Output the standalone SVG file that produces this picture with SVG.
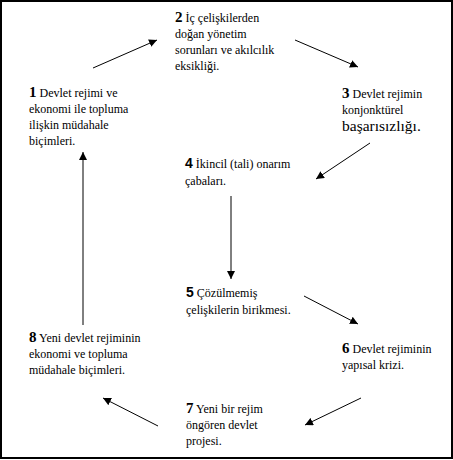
<svg xmlns="http://www.w3.org/2000/svg" width="453" height="460" viewBox="0 0 453 460">
<style>
text{font-size:12px;fill:#000}
.n{font-weight:bold;font-size:15px}
.ns{font-family:'Liberation Sans', Arial, sans-serif;font-weight:bold;font-size:14px}
.big{font-size:15.5px}
.c line{stroke:#000;stroke-width:1;marker-end:url(#ah)}
</style>
<defs>
<marker id="ah" viewBox="0 0 10 10" refX="10" refY="5" markerWidth="8" markerHeight="8" markerUnits="userSpaceOnUse" orient="auto">
<path d="M0,0 L10,5 L0,10 z" fill="#000"/>
</marker>
</defs>
<rect x="1" y="1" width="451" height="457" fill="#fff" stroke="#000" stroke-width="2"/>
<g class="c">
<line x1="93" y1="68" x2="157" y2="40"/>
<line x1="295" y1="40" x2="358" y2="67"/>
<line x1="370" y1="143" x2="316" y2="179"/>
<line x1="231" y1="196" x2="231" y2="279"/>
<line x1="304" y1="296" x2="358" y2="324"/>
<line x1="361" y1="398" x2="305" y2="425"/>
<line x1="158" y1="426" x2="103" y2="398"/>
<line x1="83" y1="325" x2="83" y2="152"/>
</g>
<g font-family="'Liberation Serif', 'Times New Roman', Times, serif">
<g id="node1">
<text x="29" y="97"><tspan class="n">1</tspan> Devlet rejimi ve</text>
<text x="29" y="113">ekonomi ile topluma</text>
<text x="29" y="129">ilişkin müdahale</text>
<text x="29" y="145">biçimleri.</text>
</g>
<g id="node2">
<text x="175" y="22"><tspan class="n">2</tspan> İç çelişkilerden</text>
<text x="175" y="38">doğan yönetim</text>
<text x="175" y="54">sorunları ve akılcılık</text>
<text x="175" y="70">eksikliği.</text>
</g>
<g id="node3">
<text x="342" y="98"><tspan class="n">3</tspan> Devlet rejimin</text>
<text x="342" y="114">konjonktürel</text>
<text x="342" y="131" class="big">başarısızlığı.</text>
</g>
<g id="node4">
<text x="185" y="168"><tspan class="ns">4</tspan> İkincil (tali) onarım</text>
<text x="185" y="185">çabaları.</text>
</g>
<g id="node5">
<text x="186" y="297"><tspan class="ns">5</tspan> Çözülmemiş</text>
<text x="186" y="314">çelişkilerin birikmesi.</text>
</g>
<g id="node6">
<text x="342" y="353"><tspan class="n">6</tspan> Devlet rejiminin</text>
<text x="342" y="369">yapısal krizi.</text>
</g>
<g id="node7">
<text x="186" y="413"><tspan class="n">7</tspan> Yeni bir rejim</text>
<text x="186" y="429">öngören devlet</text>
<text x="186" y="445">projesi.</text>
</g>
<g id="node8">
<text x="29" y="342"><tspan class="n">8</tspan> Yeni devlet rejiminin</text>
<text x="29" y="358">ekonomi ve topluma</text>
<text x="29" y="374">müdahale biçimleri.</text>
</g>
</g>
</svg>
